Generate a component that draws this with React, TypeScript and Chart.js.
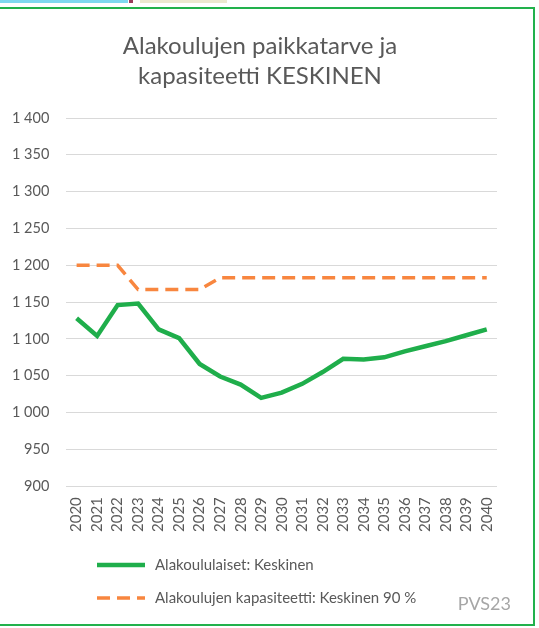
import React, { useEffect, useRef } from "react";
import { Chart, registerables } from "chart.js";

Chart.register(...registerables);

const years = ["2020","2021","2022","2023","2024","2025","2026","2027","2028","2029","2030","2031","2032","2033","2034","2035","2036","2037","2038","2039","2040"];
const pupils = [1128,1104,1146,1148,1113,1101,1066,1049,1038,1020,1027,1039,1055,1073,1072,1075,1083,1090,1097,1105,1113];
const capacity = [1200,1200,1200,1167,1167,1167,1167,1183,1183,1183,1183,1183,1183,1183,1183,1183,1183,1183,1183,1183,1183];
const titleLines = ["Alakoulujen paikkatarve ja", "kapasiteetti KESKINEN"];
const pupilsLabel = "Alakoululaiset: Keskinen";
const capacityLabel = "Alakoulujen kapasiteetti: Keskinen 90 %";
const sourceLabel = "PVS23";

const FONT = "Lato";
const GREY = "#595959";

const legendPlugin = {
  id: "customLegend",
  afterDraw(chart: any) {
    const ctx = chart.ctx;
    ctx.save();
    const rows = [565, 598];
    chart.data.datasets.forEach((ds: any, i: number) => {
      const y = rows[i];
      ctx.beginPath();
      ctx.strokeStyle = ds.borderColor;
      ctx.lineWidth = ds.borderWidth;
      ctx.lineCap = "butt";
      ctx.setLineDash(ds.borderDash || []);
      ctx.moveTo(97, y);
      ctx.lineTo(145, y);
      ctx.stroke();
      ctx.setLineDash([]);
      ctx.fillStyle = GREY;
      ctx.font = `15px ${FONT}`;
      ctx.textBaseline = "middle";
      ctx.textAlign = "left";
      ctx.fillText(ds.label, 155, y);
    });
    ctx.fillStyle = "#a6a6a6";
    ctx.font = `18px ${FONT}`;
    ctx.textAlign = "right";
    ctx.textBaseline = "middle";
    ctx.fillText(sourceLabel, 511, 604);
    ctx.restore();
  },
};

export default function App() {
  const ref = useRef<HTMLCanvasElement>(null);
  useEffect(() => {
    const chart = new Chart(ref.current!, {
      type: "line",
      data: {
        labels: years,
        datasets: [
          {
            label: pupilsLabel,
            data: pupils,
            borderColor: "#1fae4b",
            backgroundColor: "#1fae4b",
            borderWidth: 4.5,
            pointRadius: 0,
            tension: 0,
          },
          {
            label: capacityLabel,
            data: capacity,
            borderColor: "#f8863f",
            backgroundColor: "#f8863f",
            borderWidth: 3.5,
            borderDash: [13, 7],
            pointRadius: 0,
            tension: 0,
          },
        ],
      },
      options: {
        animation: false,
        responsive: false,
        layout: { padding: { left: -5, right: 42, top: 118, bottom: 85 } },
        plugins: {
          legend: { display: false },
          tooltip: { enabled: false },
          title: { display: false },
        },
        scales: {
          x: {
            offset: true,
            grid: { display: false, drawTicks: false },
            border: { display: false },
            ticks: {
              color: GREY,
              font: { family: FONT, size: 15 },
              minRotation: 90,
              maxRotation: 90,
              padding: 11,
              autoSkip: false,
            },
          },
          y: {
            min: 900,
            max: 1400,
            grid: { color: "#d9d9d9", lineWidth: 1, drawTicks: false },
            border: { display: false },
            ticks: {
              stepSize: 50,
              color: GREY,
              font: { family: FONT, size: 14.5 },
              padding: 17,
              callback: (v: any) => {
                const n = Number(v);
                const th = Math.floor(n / 1000);
                const rest = String(n % 1000).padStart(3, "0");
                return th > 0 ? `${th} ${rest}` : String(n);
              },
            },
          },
        },
      },
      plugins: [legendPlugin],
    });
    return () => chart.destroy();
  }, []);

  return (
    <div style={{ position: "absolute", left: 0, top: 0, width: 539, height: 628, background: "#fff", overflow: "hidden" }}>
      <div style={{ position: "absolute", left: 0, top: 0, width: 128, height: 3, background: "#7fd8ef" }} />
      <div style={{ position: "absolute", left: 129, top: 0, width: 4, height: 3, background: "#9a3b5a" }} />
      <div style={{ position: "absolute", left: 140, top: 0, width: 87, height: 3, background: "#ece8cf" }} />
      <div style={{ position: "absolute", left: -4, top: 7, width: 535, height: 615, border: "2px solid #22b14c" }} />
      <canvas ref={ref} width={539} height={628} style={{ position: "absolute", left: 0, top: 0 }} />
      <div
        style={{
          position: "absolute",
          left: 60,
          width: 400,
          top: 30,
          textAlign: "center",
          fontFamily: FONT,
          fontSize: 24,
          lineHeight: "30px",
          color: GREY,
          whiteSpace: "nowrap",
        }}
      >
        {titleLines.map((t) => (
          <div key={t}>{t}</div>
        ))}
      </div>
    </div>
  );
}
